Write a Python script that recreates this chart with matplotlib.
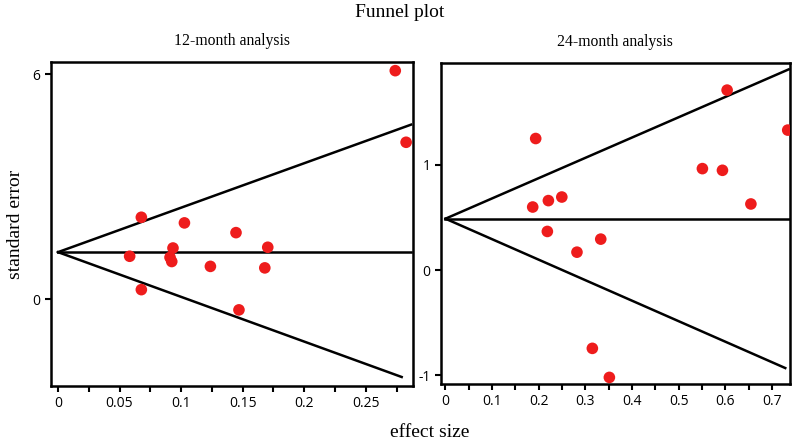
import matplotlib
matplotlib.use("Agg")
import matplotlib.pyplot as plt
import numpy as np

# 12-month analysis
x12 = [0.274, 0.2828, 0.0677, 0.1027, 0.1446, 0.0934, 0.1704, 0.0582, 0.091, 0.0924, 0.1238, 0.168, 0.0677, 0.147]
y12 = [6.10, 4.19, 2.19, 2.04, 1.78, 1.37, 1.39, 1.15, 1.12, 1.01, 0.88, 0.84, 0.26, -0.28]
apex12 = (0.0, 1.26)
upper12 = (0.2868, 4.66)
lower12 = (0.2792, -2.07)
mid12_end = 0.2868

# 24-month analysis
x24 = [0.604, 0.734, 0.1935, 0.551, 0.594, 0.2495, 0.2207, 0.1871, 0.655, 0.2185, 0.333, 0.282, 0.315, 0.3515]
y24 = [1.71, 1.33, 1.25, 0.964, 0.948, 0.694, 0.66, 0.599, 0.628, 0.367, 0.294, 0.170, -0.744, -1.02]
apex24 = (0.0, 0.488)
upper24 = (0.736, 1.907)
lower24 = (0.7287, -0.931)
mid24_end = 0.741

xt12 = [0, 0.05, 0.1, 0.15, 0.2, 0.25]
xt12_labels = ["0", "0.05", "0.1", "0.15", "0.2", "0.25"]
yt12 = [0, 6]
xt24 = [0, 0.1, 0.2, 0.3, 0.4, 0.5, 0.6, 0.7]
xt24_labels = ["0", "0.1", "0.2", "0.3", "0.4", "0.5", "0.6", "0.7"]
yt24 = [-1, 0, 1]

serif = ["Liberation Serif", "DejaVu Serif"]
sans = ["Open Sans", "DejaVu Sans"]
red = "#ee1c1c"

fig = plt.figure(figsize=(8, 4.45), dpi=100)
ax1 = fig.add_axes([0.06375, 0.1326, 0.4525, 0.728])
ax2 = fig.add_axes([0.551, 0.137, 0.436, 0.722])

def draw(ax, xs, ys, apex, up, lo, mid_end, xlim, ylim, xt, xtl, yt, minor_step, title):
    ax.plot([apex[0], up[0]], [apex[1], up[1]], color="black", lw=1.8)
    ax.plot([apex[0], lo[0]], [apex[1], lo[1]], color="black", lw=1.8)
    ax.plot([apex[0], mid_end], [apex[1], apex[1]], color="black", lw=1.8)
    ax.scatter(xs, ys, s=70, color=red, zorder=3, edgecolors="none")
    ax.set_xlim(*xlim)
    ax.set_ylim(*ylim)
    ax.set_xticks(np.arange(0, xlim[1], minor_step), minor=True)
    ax.set_xticks(xt)
    ax.set_xticklabels(xtl, fontfamily=sans, fontsize=10)
    ax.set_yticks(yt)
    ax.set_yticklabels([str(v) for v in yt], fontfamily=sans, fontsize=10)
    ax.tick_params(axis="both", which="both", direction="out", length=4, width=1.5, color="black")
    for s in ax.spines.values():
        s.set_linewidth(1.8)
    ax.set_title(title, fontfamily=serif, fontsize=11.3, pad=12)

draw(ax1, x12, y12, apex12, upper12, lower12, mid12_end, (-0.0057, 0.2884), (-2.31, 6.33),
     xt12, xt12_labels, yt12, 0.025, "12-month analysis")
draw(ax2, x24, y24, apex24, upper24, lower24, mid24_end, (-0.010, 0.738), (-1.083, 1.97),
     xt24, xt24_labels, yt24, 0.05, "24-month analysis")

ax1.set_ylabel("standard error", fontfamily=serif, fontsize=14, labelpad=6)
fig.text(0.5, 0.972, "Funnel plot", ha="center", va="center", fontfamily=serif, fontsize=14)
fig.text(0.537, 0.027, "effect size", ha="center", va="center", fontfamily=serif, fontsize=14)

fig.savefig("out.png", dpi=100)
